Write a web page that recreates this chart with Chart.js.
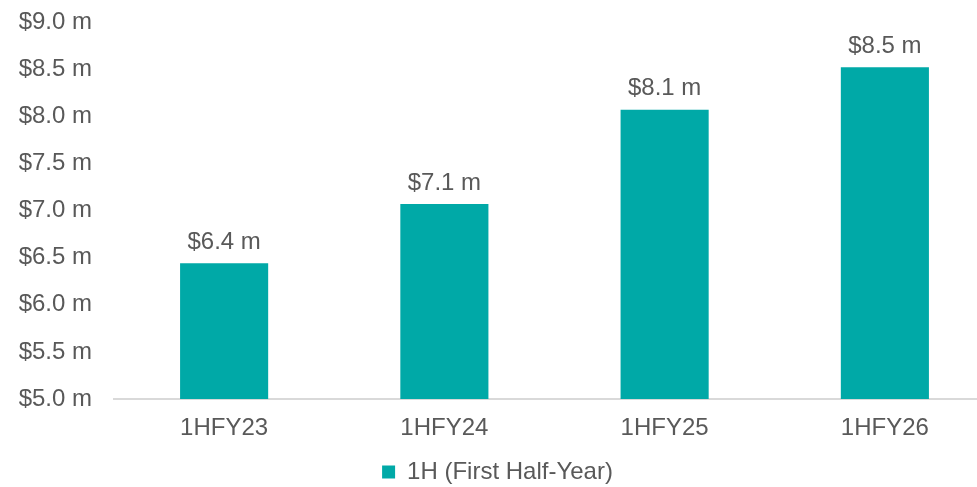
<!DOCTYPE html>
<html>
<head>
<meta charset="utf-8">
<script src="https://cdn.jsdelivr.net/npm/chart.js@4/dist/chart.umd.min.js"></script>
<style>
  html, body { margin: 0; padding: 0; background: #ffffff; overflow: hidden; }
  #wrap { width: 1010px; height: 487px; }
</style>
</head>
<body>
<div id="wrap"><canvas id="chart1" width="1010" height="487"></canvas></div>
<script>
const categories = ["1HFY23", "1HFY24", "1HFY25", "1HFY26"];
const revenue = [6.44, 7.07, 8.07, 8.52];
const seriesName = "1H (First Half-Year)";
const yMin = 5.0;
const yMax = 9.0;
const yStep = 0.5;

const textColor = "#595959";
const barColor = "#00A9A7";
const fontFamily = "'Liberation Sans', Arial, sans-serif";
const fontSize = 24;

function money(v) {
  return "$" + Number(v).toFixed(1) + " m";
}

const valueLabels = {
  id: 'valueLabels',
  afterDatasetsDraw: (chart) => {
    const ctx = chart.ctx;
    const meta = chart.getDatasetMeta(0);
    ctx.save();
    ctx.font = fontSize + "px " + fontFamily;
    ctx.fillStyle = textColor;
    ctx.textAlign = "center";
    ctx.textBaseline = "bottom";
    meta.data.forEach((bar, i) => {
      ctx.fillText(money(revenue[i]), bar.x, bar.y - 9);
    });
    ctx.restore();
  }
};

function chart1() {
  let ctx = document.getElementById('chart1').getContext("2d");
  let myChart = new Chart(ctx, {
    type: "bar",
    data: {
      labels: categories,
      datasets: [{
        label: seriesName,
        data: revenue,
        backgroundColor: barColor,
        borderWidth: 0,
        categoryPercentage: 1.0,
        barPercentage: 0.4
      }]
    },
    options: {
      responsive: false,
      animation: false,
      scales: {
        x: {
          grid: { display: false, drawTicks: false },
          border: { display: true, color: "#D9D9D9", width: 2 },
          afterFit: (scale) => { scale.height = 56; },
          ticks: {
            color: textColor,
            font: { family: fontFamily, size: fontSize },
            padding: 15
          }
        },
        y: {
          min: yMin,
          max: yMax,
          grid: { display: false, drawTicks: false },
          border: { display: false },
          afterFit: (scale) => {
            scale.width = 114;
            scale.paddingTop = 22;
            scale.paddingBottom = 0;
          },
          ticks: {
            stepSize: yStep,
            color: textColor,
            padding: 22,
            font: { family: fontFamily, size: fontSize },
            callback: (v) => money(v)
          }
        }
      },
      plugins: {
        legend: {
          position: "bottom",
          labels: {
            color: textColor,
            boxWidth: 13,
            boxHeight: 13,
            padding: 5,
            font: { family: fontFamily, size: fontSize }
          }
        },
        tooltip: { enabled: false }
      },
      layout: {
        padding: { left: 0, right: 15, top: 0, bottom: -7 }
      }
    },
    plugins: [valueLabels]
  });
}

chart1();
</script>
</body>
</html>
